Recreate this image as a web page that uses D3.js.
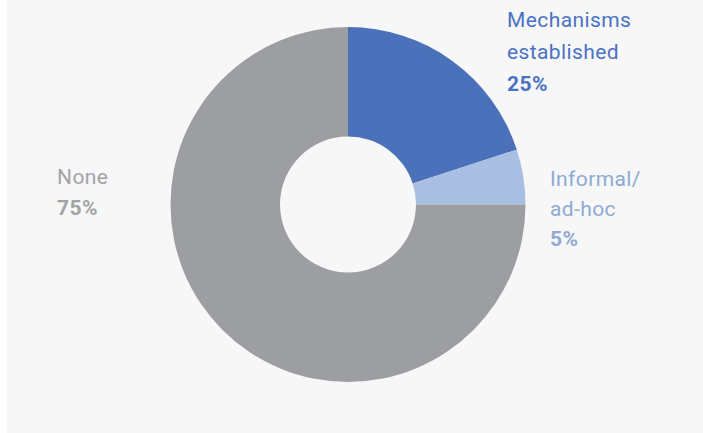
<!DOCTYPE html>
<html><head><meta charset="utf-8">
<script src="https://cdn.jsdelivr.net/npm/d3@7"></script>
<style>html,body{margin:0;padding:0;background:#fff;}svg{display:block;}</style>
</head><body><svg id="c" width="703" height="433"></svg>
<script>
const categories = ["Mechanisms established", "Informal/ ad-hoc", "None"];
const values = [20, 5, 75];
const pctLabels = ["25%", "5%", "75%"];
const labelLines = [["Mechanisms", "established"], ["Informal/", "ad-hoc"], ["None"]];
const colors = ["#4a71b9", "#a8bee2", "#9c9ea2"];
const textColors = ["#4a72c4", "#8eaad3", "#a2a3a7"];

const svg = d3.select("#c");
svg.append("rect").attr("x", 7).attr("y", 0).attr("width", 696).attr("height", 433).attr("fill", "#f7f7f7");

const cx = 348, cy = 204.5, R = 177.5, r = 68;
const pie = d3.pie().sort(null).value(d => d)(values);
const arc = d3.arc().innerRadius(r).outerRadius(R);
const g = svg.append("g").attr("transform", `translate(${cx},${cy})`);
g.selectAll("path").data(pie).join("path").attr("d", arc).attr("fill", (d, i) => colors[i]);

const labelPos = [
  {x: 507, y: 27, lh: 32},
  {x: 550, y: 186, lh: 30},
  {x: 57, y: 184, lh: 31}
];
categories.forEach((c, i) => {
  const p = labelPos[i];
  const t = svg.append("text").attr("x", p.x).attr("y", p.y)
    .attr("font-family", "Roboto, 'Open Sans', sans-serif").attr("font-size", 21)
    .attr("letter-spacing", 0.4)
    .attr("fill", textColors[i]);
  labelLines[i].forEach((ln, j) => {
    t.append("tspan").attr("x", p.x).attr("dy", j === 0 ? 0 : p.lh).text(ln);
  });
  t.append("tspan").attr("x", p.x).attr("dy", p.lh).attr("font-weight", "bold").text(pctLabels[i]);
});
</script></body></html>
